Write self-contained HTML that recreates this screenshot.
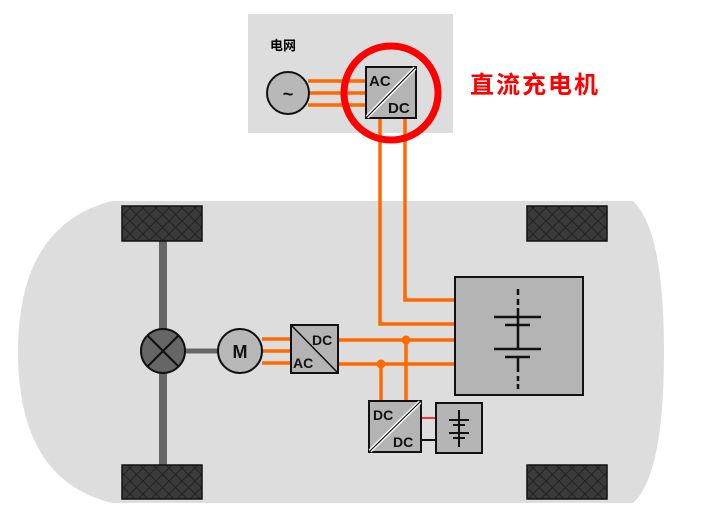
<!DOCTYPE html>
<html><head><meta charset="utf-8"><style>
html,body{margin:0;padding:0;background:#fff;}
svg{display:block;}
text{font-family:"Liberation Sans","Noto Sans CJK SC",sans-serif;font-weight:bold;}
</style></head><body>
<svg width="723" height="529" viewBox="0 0 723 529" xmlns="http://www.w3.org/2000/svg">
<defs>
<pattern id="hatch" width="13" height="13" patternUnits="userSpaceOnUse">
<rect width="13" height="13" fill="#3a3a3a"/>
<path d="M0 0L13 13M13 0L0 13" stroke="#222" stroke-width="1"/>
</pattern>
</defs>
<path d="M112 201 L633 201 Q664 230 664 352 Q664 475 633 503 L112 503 Q18 480 18 352 Q18 225 112 201 Z" fill="#dddddd"/>
<rect x="248" y="14" width="205" height="119" fill="#dddddd"/>
<text x="270" y="50" font-size="13" fill="#000">电网</text>
<g stroke="#ff6a00" stroke-width="3.5">
<line x1="308" y1="81" x2="366" y2="81"/><line x1="308" y1="93" x2="366" y2="93"/><line x1="308" y1="105" x2="366" y2="105"/>
</g>
<circle cx="288" cy="93" r="21" fill="#b8b8b8" stroke="#111" stroke-width="2"/>
<text x="288" y="100" font-size="18" text-anchor="middle" fill="#111">~</text>
<g stroke="#ff6a00" stroke-width="3.5" fill="none">
<polyline points="380,118 380,324 455,324"/>
<polyline points="405,118 405,300 455,300"/>
<line x1="338" y1="340" x2="455" y2="340"/>
<line x1="338" y1="364" x2="455" y2="364"/>
<line x1="406" y1="340" x2="406" y2="401"/>
<line x1="381" y1="364" x2="381" y2="401"/>
<line x1="262" y1="339" x2="291" y2="339"/><line x1="262" y1="351" x2="291" y2="351"/><line x1="262" y1="363" x2="291" y2="363"/>
</g>
<circle cx="406" cy="340" r="4.5" fill="#ff6a00"/>
<circle cx="381" cy="364" r="4.5" fill="#ff6a00"/>
<rect x="366" y="67" width="50" height="51" fill="#b4b4b4" stroke="#111" stroke-width="2"/>
<line x1="415" y1="68" x2="367" y2="117" stroke="#fff" stroke-width="4"/>
<line x1="415" y1="68" x2="367" y2="117" stroke="#111" stroke-width="1.2"/>
<text x="369" y="86" font-size="15" fill="#111">AC</text>
<text x="388" y="113" font-size="15" fill="#111">DC</text>
<circle cx="391" cy="93" r="47" fill="none" stroke="#ff0000" stroke-width="7"/>
<text x="470" y="93" font-size="24" fill="#ff0000" letter-spacing="2">直流充电机</text>
<line x1="163" y1="240" x2="163" y2="466" stroke="#666" stroke-width="8"/>
<line x1="185" y1="351" x2="218" y2="351" stroke="#666" stroke-width="5"/>
<rect x="122" y="206" width="80" height="35" fill="url(#hatch)" stroke="#111" stroke-width="1.5"/>
<rect x="122" y="465" width="80" height="34" fill="url(#hatch)" stroke="#111" stroke-width="1.5"/>
<rect x="527" y="206" width="80" height="35" fill="url(#hatch)" stroke="#111" stroke-width="1.5"/>
<rect x="527" y="465" width="80" height="34" fill="url(#hatch)" stroke="#111" stroke-width="1.5"/>
<circle cx="163" cy="351" r="22" fill="#666" stroke="#111" stroke-width="2"/>
<line x1="147.5" y1="335.5" x2="178.5" y2="366.5" stroke="#111" stroke-width="2"/>
<line x1="178.5" y1="335.5" x2="147.5" y2="366.5" stroke="#111" stroke-width="2"/>
<circle cx="240" cy="351" r="22" fill="#b8b8b8" stroke="#111" stroke-width="2"/>
<text x="240" y="358" font-size="18" text-anchor="middle" fill="#111">M</text>
<rect x="291" y="325" width="47" height="48" fill="#b4b4b4" stroke="#111" stroke-width="2"/>
<line x1="292" y1="326" x2="337" y2="372" stroke="#111" stroke-width="1.5"/>
<text x="312" y="345" font-size="14" fill="#111">DC</text>
<text x="293" y="368" font-size="14" fill="#111">AC</text>
<rect x="455" y="277" width="128" height="118" fill="#b4b4b4" stroke="#111" stroke-width="2"/>
<g stroke="#111" stroke-width="2.5">
<line x1="518" y1="289" x2="518" y2="295" /><line x1="518" y1="299" x2="518" y2="305"/>
<line x1="518" y1="308" x2="518" y2="348"/>
<line x1="494" y1="317" x2="541" y2="317"/><line x1="505" y1="325" x2="530" y2="325"/>
<line x1="494" y1="349" x2="541" y2="349"/><line x1="505" y1="357" x2="530" y2="357"/>
<line x1="518" y1="357" x2="518" y2="372"/>
<line x1="518" y1="376" x2="518" y2="381"/><line x1="518" y1="384" x2="518" y2="389"/>
</g>
<line x1="421" y1="418" x2="436" y2="418" stroke="#ff3030" stroke-width="2"/>
<line x1="421" y1="440" x2="436" y2="440" stroke="#111" stroke-width="2"/>
<rect x="369" y="401" width="52" height="51" fill="#b4b4b4" stroke="#111" stroke-width="2"/>
<line x1="420" y1="402" x2="370" y2="451" stroke="#fff" stroke-width="4"/>
<line x1="420" y1="402" x2="370" y2="451" stroke="#111" stroke-width="1.2"/>
<text x="373" y="420" font-size="14" fill="#111">DC</text>
<text x="393" y="447" font-size="14" fill="#111">DC</text>
<rect x="436" y="403" width="46" height="50" fill="#b4b4b4" stroke="#111" stroke-width="2"/>
<g stroke="#111" stroke-width="2">
<line x1="459" y1="410" x2="459" y2="447"/>
<line x1="449" y1="420" x2="469" y2="420"/><line x1="453" y1="425" x2="465" y2="425"/>
<line x1="449" y1="433" x2="469" y2="433"/><line x1="453" y1="438" x2="465" y2="438"/>
</g>
</svg>
</body></html>
